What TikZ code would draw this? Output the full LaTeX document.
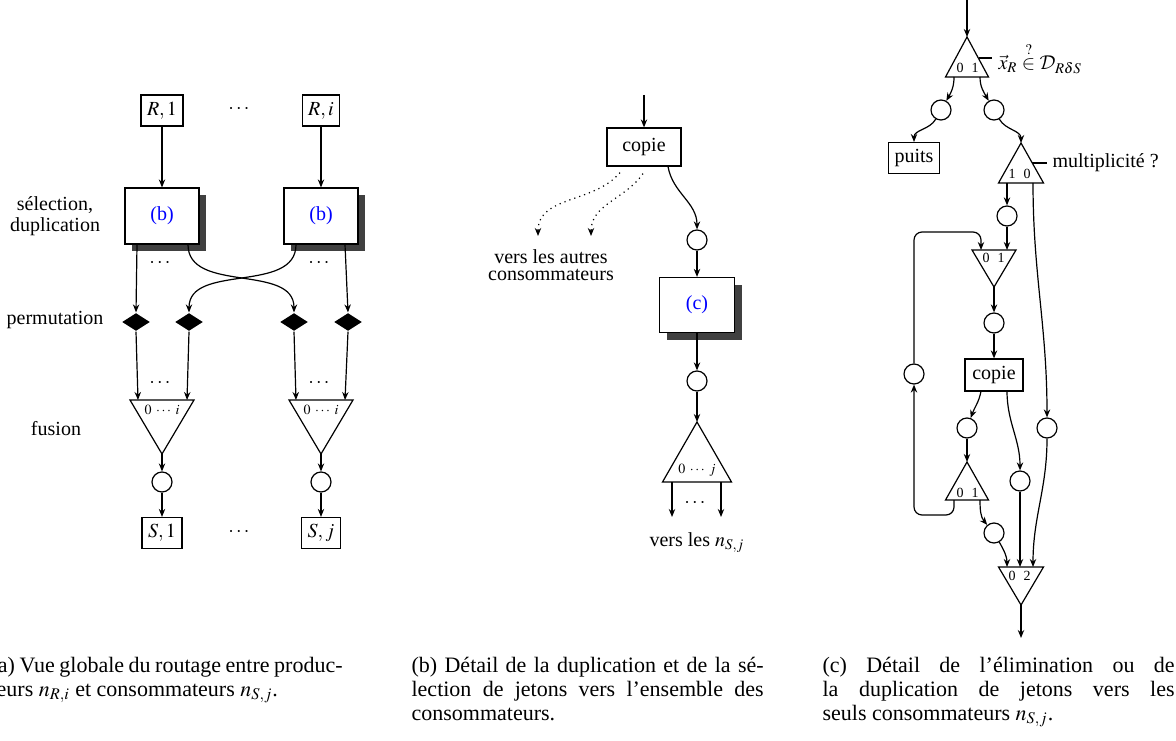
\documentclass[tikz,border=0pt]{standalone}
\usepackage{amsmath}
\usepackage{mathptmx}
\DeclareMathAlphabet{\mathcal}{OMS}{cmsy}{m}{n}
\usepackage{fontspec}
\setmainfont{Liberation Serif}
\usetikzlibrary{arrows.meta,positioning,calc,shapes.geometric,shadows}

\begin{document}
\begin{tikzpicture}[x=0.5pt,y=0.5pt,semithick,>={Stealth[length=4pt,width=3.2pt]},
    boite/.style={draw,fill=white,minimum height=15.5pt,inner xsep=3pt},
    bloc/.style={draw,fill=white,minimum width=37pt,minimum height=28pt,text=blue,
      drop shadow={shadow xshift=3.5pt,shadow yshift=-3.5pt,fill=black!75,opacity=1}},
    jeton/.style={draw,circle,minimum size=10pt,inner sep=0pt},
    perm/.style={diamond,fill=black,minimum width=14pt,minimum height=9pt,inner sep=0pt},
    idx/.style={font=\fontsize{7}{8}\selectfont,inner sep=0pt},
    legende/.style={text width=176pt,align=justify,anchor=base west,inner sep=0pt,
      font=\fontsize{11}{12}\selectfont}]
  \useasboundingbox (0,0) rectangle (1176,740);

  % (a)
  \foreach \x/\k/\m in {162/1/1,321/i/j}{
    \node[boite] (r\k) at (\x,629.5) {$R,\k$};
    \node[bloc] (b\k) at (\x,524) {(b)};
    \node (pb\k) at (\x-1,477) {$\cdots$};
    \node (pf\k) at (\x-1,357) {$\cdots$};
    \coordinate (f\k) at (\x,340);
    \draw ($(f\k)+(-32,0)$) -- ++(64,0) -- ++(-32,-54) coordinate (fa\k) -- cycle;
    \node[idx] at (\x,330) {$0\;\cdots\;i$};
    \node[jeton] (o\k) at (\x,258) {};
    \node[boite] (s\k) at (\x,207) {$S,\m$};
    \draw[->] (r\k) -- (b\k);
    \draw[->] (fa\k) -- (o\k);
    \draw[->] (o\k) -- (s\k);
  }
  \node (pr) at (240,631) {$\cdots$};
  \node (ps) at (240,208) {$\cdots$};
  \foreach \x [count=\n] in {136,189,294,348}
    \node[perm] (p\n) at (\x,418) {};
  \draw[->] ($(b1.south)+(-25,0)$) -- (p1.north);
  \draw[->] ($(b1.south)+(26,0)$) to[out=-90,in=90] (p3.north);
  \draw[->] ($(bi.south)+(-25,0)$) to[out=-90,in=90] (p2.north);
  \draw[->] ($(bi.south)+(24,0)$) -- (p4.north);
  \draw[->] (p1.south) -- ($(f1)+(-24,0)$);
  \draw[->] (p2.south) -- ($(f1)+(25,0)$);
  \draw[->] (p3.south) -- ($(fi)+(-25,0)$);
  \draw[->] (p4.south) -- ($(fi)+(24,0)$);
  \node[align=center,font=\fontsize{10}{10.3}\selectfont] (lsel) at (55,524) {sélection,\\duplication};
  \node (lperm) at (55,420) {permutation};
  \node (lfus) at (56,311) {fusion};

  % (b)
  \coordinate (entree) at (644,645);
  \node[boite,minimum width=37pt,minimum height=19pt] (cp) at (644,593) {copie};
  \draw[->] (entree) -- (cp);
  \coordinate (v1) at (538,504);
  \coordinate (v2) at (591,504);
  \draw[->,dotted] ($(cp.south)+(-24,-6)$) to[out=-130,in=90] (v1);
  \draw[->,dotted] ($(cp.south)+(-1,-7)$) to[out=-125,in=90] (v2);
  \node[align=center,font=\fontsize{10}{8.7}\selectfont] (autres) at (551,475) {vers les autres\\consommateurs};
  \node[jeton] (j1) at (697,500) {};
  \draw[->] ($(cp.south)+(24,0)$) to[out=-80,in=90] (j1);
  \node[bloc,minimum width=37.5pt,minimum height=27.5pt] (bc) at (697,435) {(c)};
  \draw[->] (j1) -- (bc);
  \node[jeton] (j2) at (697,359) {};
  \draw[->] (bc) -- (j2);
  \coordinate (dup) at (697,318);
  \draw (dup) -- ++(-34.5,-60) -- ++(69,0) -- cycle;
  \draw[->] (j2) -- (dup);
  \node[idx] at (697,270) {$0\;\cdots\;j$};
  \coordinate (s1) at (672,223);
  \coordinate (s2) at (721,223);
  \draw[->] (672,258) -- (s1);
  \draw[->] (721,258) -- (s2);
  \node (pd) at (696,237) {$\cdots$};
  \node (vers) at (697,197) {vers les $n_{S,j}$};

  % (c)
  \coordinate (haut) at (967,740);
  \coordinate (t1) at (967,703);
  \draw (t1) -- ++(-21.5,-40) -- ++(43,0) -- cycle;
  \draw[->] (haut) -- (t1);
  \node[idx] at (967.5,672) {0\hspace{4pt}1};
  \draw (979,682) -- (992,682) node[right,inner sep=3pt] (cond)
    {$\vec{x}_R \overset{?}{\in} \mathcal{D}_{R\delta S}$};
  \node[jeton] (jl) at (941,630) {};
  \node[jeton] (jr) at (994,630) {};
  \draw[->] (954,663) to[out=-90,in=60] (jl);
  \draw[->] (980,663) to[out=-90,in=120] (jr);
  \node[boite,minimum height=15pt] (puits) at (914,582) {puits};
  \draw[->] (jl) to[out=-120,in=90] (puits);
  \coordinate (t2) at (1021,597);
  \draw (t2) -- ++(-22.5,-40) -- ++(45,0) -- cycle;
  \draw[->] (jr) to[out=-60,in=90] (t2);
  \node[idx] at (1019.5,566) {1\hspace{4pt}0};
  \draw (1032,577) -- (1047,577) node[right,inner sep=2.5pt] (mult) {multiplicité~?};
  \node[jeton] (j3) at (1007,524) {};
  \draw[->] (1007,557) -- (j3);
  \coordinate (t3) at (994,453);
  \draw (t3) -- ++(-22,37) -- ++(44,0) -- cycle;
  \node[idx] at (993.5,482) {0\hspace{4pt}1};
  \draw[->] (j3) -- (1007,490);
  \node[jeton] (jloop) at (914,366) {};
  \draw[->,rounded corners=4pt] (jloop) |- (981,508) -- (981,490);
  \node[jeton] (j4) at (994,417) {};
  \draw[->] (t3) -- (j4);
  \node[boite,minimum width=29pt,minimum height=16pt] (cp2) at (994,365) {copie};
  \draw[->] (j4) -- (cp2);
  \node[jeton] (ja) at (967,312) {};
  \node[jeton] (jb) at (1047,312) {};
  \node[jeton] (jc) at (1020,259) {};
  \node[jeton] (jd) at (994,207) {};
  \draw[->] (1033,557) to[out=-90,in=90] (jb);
  \draw[->] (981,349) to[out=-100,in=70] (ja);
  \draw[->] (1007,349) to[out=-90,in=90] (jc);
  \coordinate (t4) at (967,278);
  \draw (t4) -- ++(-21.5,-38) -- ++(43,0) -- cycle;
  \draw[->] (ja) -- (t4);
  \node[idx] at (967.5,247) {0\hspace{4pt}1};
  \draw[->,rounded corners=4pt] (954,240) |- (914,225) -- (jloop);
  \draw[->] (980,240) to[out=-90,in=130] (jd);
  \coordinate (t5) at (1021,135);
  \draw (t5) -- ++(-22.5,38) -- ++(45,0) -- cycle;
  \node[idx] at (1019.5,164) {0\hspace{4pt}2};
  \draw[->] (jd) to[out=-60,in=90] (1007,173);
  \draw[->] (jc) -- (1020,173);
  \draw[->] (jb) to[out=-90,in=90] (1033,173);
  \coordinate (bas) at (1021,102);
  \draw[->] (t5) -- (bas);

  % legendes
  \node[legende] (lga) at (-10,68) {(a) Vue globale du routage entre produc-\linebreak teurs $n_{R,i}$ et consommateurs $n_{S,j}$.};
  \node[legende] (lgb) at (411,68) {(b) Détail de la duplication et de la sé-\linebreak lection de jetons vers l'ensemble des\linebreak consommateurs.};
  \node[legende] (lgc) at (822,68) {(c) Détail de l'élimination ou de\linebreak la duplication de jetons vers les\linebreak seuls consommateurs $n_{S,j}$.};
\end{tikzpicture}
\end{document}
